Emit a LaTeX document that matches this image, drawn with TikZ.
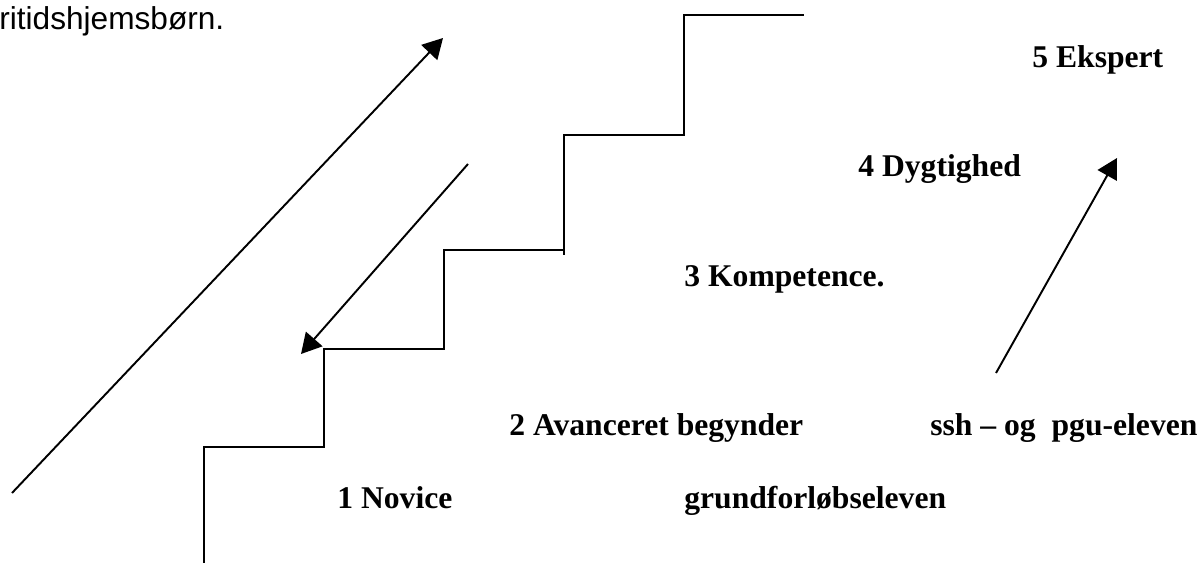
\documentclass[tikz,border=0pt]{standalone}
\usepackage{fontspec}
\setmainfont{Liberation Serif}
\newfontfamily\arialfont{Liberation Sans}
\usetikzlibrary{arrows.meta}

\tikzset{
    trin/.style={line width=1.1pt},
    pil/.style={line width=1.1pt, -{Triangle[length=11.4pt, width=12.4pt]}},
    niveau/.style={anchor=base west, inner sep=0pt, font=\fontsize{18}{20}\selectfont\bfseries},
}

\begin{document}
\begin{tikzpicture}[x=0.02cm, y=-0.02cm]
    \useasboundingbox (0,0) rectangle (1202,563);

    \node[anchor=base west, inner sep=0pt, font=\arialfont\fontsize{18}{20}\selectfont] (fritid) at (-1,30) {ritidshjemsbørn.};

    % trappen
    \draw[trin] (204,563) -- (204,447) -- (324,447) -- (324,349) -- (444,349) -- (444,250) -- (564,250);
    \draw[trin] (564,255) -- (564,135) -- (684,135) -- (684,15) -- (804,15);

    % pile
    \coordinate (op0) at (12,493);
    \coordinate (op1) at (443,38);
    \draw[pil] (op0) -- (op1);

    \coordinate (ned0) at (468,164);
    \coordinate (ned1) at (301,354);
    \draw[pil] (ned0) -- (ned1);

    \coordinate (elev0) at (996,373);
    \coordinate (elev1) at (1117,158);
    \draw[pil] (elev0) -- (elev1);

    % niveauer
    \node[niveau] (ekspert) at (1032,68) {5 Ekspert};
    \node[niveau] (dygtighed) at (858,177) {4 Dygtighed};
    \node[niveau] (kompetence) at (684,287) {3 Kompetence.};
    \node[niveau] (begynder) at (509,435) {2 Avanceret begynder};
    \node[niveau] (sshpgu) at (930,435) {ssh -- og\ \ pgu-eleven};
    \node[niveau] (novice) at (337,508) {1 Novice};
    \node[niveau] (grundforloeb) at (684,508) {grundforløbseleven};

\end{tikzpicture}
\end{document}
